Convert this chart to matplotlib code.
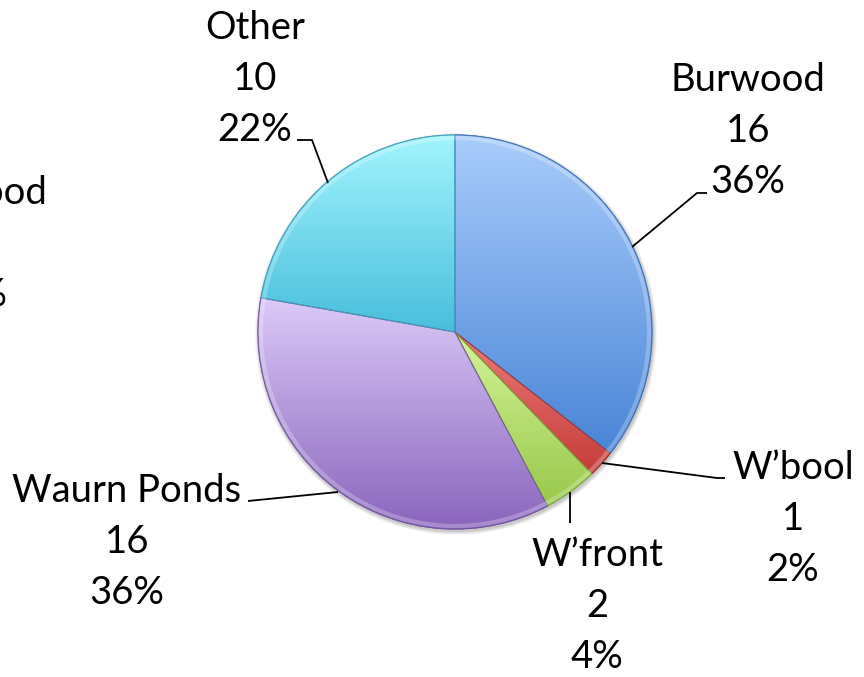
"""
Pie chart of enrolments by campus, with Office-style gradient wedges.
"""

import numpy as np
import matplotlib
matplotlib.use('Agg')
import matplotlib.pyplot as plt
from matplotlib.colors import LinearSegmentedColormap
from matplotlib.patches import PathPatch

plt.rcParams['font.family'] = ['Lato', 'DejaVu Sans']

# --- data ---
campuses = ['Burwood', "W\u2019bool", "W\u2019front", 'Waurn Ponds', 'Other']
counts = [16, 1, 2, 16, 10]
percents = [36, 2, 4, 36, 22]

# gradient (top, bottom) colour for each wedge
top_colors = ['#a9cdfc', '#ee7c78', '#d6f39a', '#dccaf8', '#a2f4fd']
bottom_colors = ['#4a84d6', '#c43c3a', '#98c84a', '#8965bd', '#48bedc']
edge_colors = ['#3d6fb5', '#a33230', '#7fa83c', '#6f519c', '#3a9fb8']

# label placement in pixel coordinates (x, y from top) and leader polylines
label_pos = [(748, 131), (793, 519), (597, 606), (127, 542), (255, 79)]
leaders = [
    [(632, 247), (697, 193), (707, 193)],
    [(602, 463), (717, 478), (725, 478)],
    [(570, 492), (570, 523)],
    [(338, 492), (248, 501)],
    [(328, 183), (312, 140), (297, 140)],
]

W, H = 864, 677
cx, cy, radius = 455, 332, 197

fig = plt.figure(figsize=(W / 100, H / 100), dpi=100)
ax = fig.add_axes([0, 0, 1, 1])

# soft drop shadow
for i, a in enumerate([0.04, 0.05, 0.06, 0.08]):
    shadow = plt.Circle((cx + 1, H - cy - 2), radius + 4 - i, facecolor='black',
                        edgecolor='none', alpha=a, zorder=0)
    ax.add_patch(shadow)

wedges, _ = ax.pie(counts, startangle=90, counterclock=False,
                   center=(cx, H - cy), radius=radius, frame=True,
                   colors=top_colors,
                   wedgeprops=dict(linewidth=0.8))

grad = np.linspace(0, 1, 256).reshape(-1, 1)
for w, c1, c2, ec in zip(wedges, top_colors, bottom_colors, edge_colors):
    w.set_edgecolor(ec)
    w.set_zorder(2)
    bb = w.get_path().get_extents()
    cmap = LinearSegmentedColormap.from_list('g', [c1, c2])
    img = ax.imshow(grad, cmap=cmap, aspect='auto', origin='upper',
                    extent=[bb.x0, bb.x1, bb.y0, bb.y1], zorder=2,
                    interpolation='bilinear')
    img.set_clip_path(w)
    # outline on top of the gradient
    outline = PathPatch(w.get_path(), fill=False, edgecolor=ec,
                        linewidth=0.8, alpha=0.85, zorder=3)
    ax.add_patch(outline)

# subtle light rim
rim = plt.Circle((cx, H - cy), radius - 3, fill=False, edgecolor='white',
                 alpha=0.25, linewidth=3, zorder=3)
ax.add_patch(rim)

ax.set_xlim(0, W)
ax.set_ylim(0, H)
ax.set_aspect('equal')
ax.axis('off')

for name, n, p, (lx, ly), pts in zip(campuses, counts, percents, label_pos, leaders):
    ax.text(lx, H - ly, f'{name}\n{n}\n{p}%', ha='center', va='center',
            fontsize=27.5, linespacing=1.52, color='black', zorder=5)
    xs = [q[0] for q in pts]
    ys = [H - q[1] for q in pts]
    ax.plot(xs, ys, color='black', lw=1.3, zorder=4, solid_capstyle='butt')

# label of a neighbouring chart, cut off at the left edge
ax.text(-30, H - 244, 'Burwood\n16\n36%', ha='center', va='center',
        fontsize=27.5, linespacing=1.52, color='black', clip_on=False)

fig.savefig('out.png', dpi=100)
